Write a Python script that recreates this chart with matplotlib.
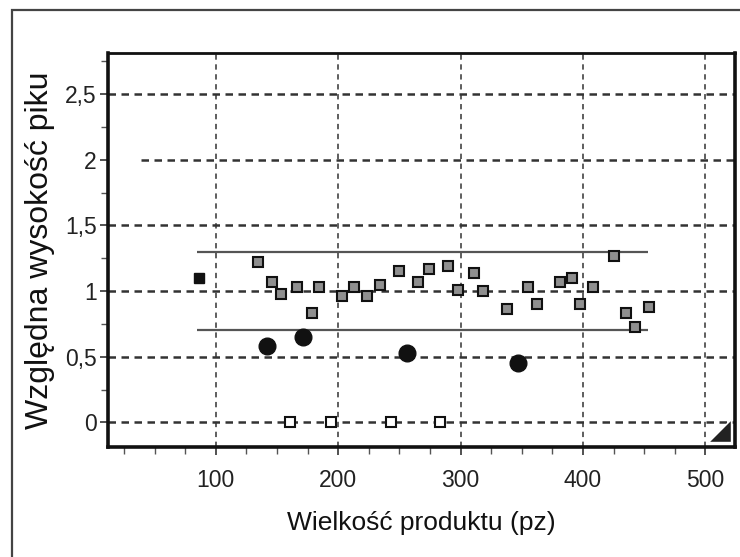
import matplotlib
matplotlib.use("Agg")
import matplotlib.pyplot as plt
from matplotlib.patches import Rectangle, Polygon
from matplotlib.ticker import MultipleLocator, FuncFormatter

# Dane
wielkosc_szare = [134.8, 146.2, 153.6, 166.1, 178.6, 184.6, 202.9, 212.9, 223.5, 234.1,
                  249.6, 265.1, 273.9, 289.6, 297.8, 310.9, 318.0, 338.0, 355.2, 362.5,
                  381.6, 391.1, 397.6, 407.8, 424.9, 435.5, 442.5, 453.5]
wysokosc_szare = [1.22, 1.07, 0.98, 1.03, 0.83, 1.03, 0.965, 1.03, 0.965, 1.05,
                  1.15, 1.07, 1.17, 1.19, 1.01, 1.14, 1.00, 0.86, 1.03, 0.90,
                  1.07, 1.10, 0.90, 1.03, 1.27, 0.83, 0.73, 0.88]
wielkosc_czarny = [86.4]
wysokosc_czarny = [1.10]
wielkosc_kola = [142.1, 171.0, 256.4, 347.0]
wysokosc_kola = [0.58, 0.65, 0.53, 0.45]
wielkosc_puste = [160.9, 193.9, 243.3, 282.9]
wysokosc_puste = [0.0, 0.0, 0.0, 0.0]
granice = [0.7, 1.3]
zakres_granic = [85.0, 453.0]

czcionka = ["Liberation Sans", "DejaVu Sans"]

fig = plt.figure(figsize=(7.4, 5.57), dpi=100)
fig.patches.append(Rectangle((12 / 740, -0.1), 1.2, 1.1 - 10 / 557,
                             transform=fig.transFigure, fill=False,
                             edgecolor="#444444", linewidth=1.6))
ax = fig.add_axes([0.146, 0.197, 0.847, 0.707])

ax.set_xlim(12, 524)
ax.set_ylim(-0.19, 2.81)

# siatka
for yv in [0, 0.5, 1, 1.5, 2.5]:
    ax.axhline(yv, color="#333333", lw=1.8, ls=(0, (3, 2.2)), zorder=1)
ax.hlines(2, 39, 524, color="#333333", lw=1.8, linestyles=[(0, (3, 2.2))], zorder=1)
for xv in [100, 200, 300, 400, 500]:
    ax.axvline(xv, color="#333333", lw=1.1, ls=(0, (3.5, 3)), zorder=1)

# granice
for g in granice:
    ax.hlines(g, zakres_granic[0], zakres_granic[1], color="#555555", lw=1.6, zorder=2)

ax.plot(wielkosc_szare, wysokosc_szare, ls="none", marker="s", ms=7.5,
        mfc="#8f8f8f", mec="#111111", mew=1.5, zorder=3)
ax.plot(wielkosc_czarny, wysokosc_czarny, ls="none", marker="s", ms=7.5,
        mfc="#111111", mec="#111111", zorder=3)
ax.plot(wielkosc_kola, wysokosc_kola, ls="none", marker="o", ms=12,
        mfc="#111111", mec="#111111", zorder=3)
ax.plot(wielkosc_puste, wysokosc_puste, ls="none", marker="s", ms=7.5,
        mfc="white", mec="#111111", mew=1.5, zorder=3)

# trojkat w rogu
ax.add_patch(Polygon([[0.958, 0.013], [0.994, 0.013], [0.994, 0.072]], closed=True,
                     transform=ax.transAxes, facecolor="#222222", edgecolor="white",
                     lw=1.0, zorder=4, clip_on=False))

ax.xaxis.set_major_locator(MultipleLocator(100))
ax.xaxis.set_minor_locator(MultipleLocator(25))
ax.yaxis.set_major_locator(MultipleLocator(0.5))
ax.yaxis.set_minor_locator(MultipleLocator(0.25))
ax.yaxis.set_major_formatter(FuncFormatter(lambda v, p: ("%g" % v).replace(".", ",")))

for s in ax.spines.values():
    s.set_linewidth(2.6)
    s.set_color("#111111")
ax.spines["top"].set_linewidth(2.0)

ax.tick_params(axis="both", which="major", direction="out", length=6, width=1.2,
               color="#333333", labelcolor="#222222", labelsize=16.5)
ax.tick_params(axis="both", which="minor", direction="out", length=5, width=1.0,
               color="#555555")
ax.tick_params(axis="x", pad=10)
ax.tick_params(axis="y", pad=2)
for lbl in ax.get_xticklabels() + ax.get_yticklabels():
    lbl.set_family(czcionka)

ax.set_xlabel("Wielkość produktu (pz)", fontsize=19, color="#111111", labelpad=13,
              family=czcionka)
ax.set_ylabel("Względna wysokość piku", fontsize=23, color="#111111", labelpad=7,
              family=czcionka)

fig.savefig("out.png", dpi=100)
